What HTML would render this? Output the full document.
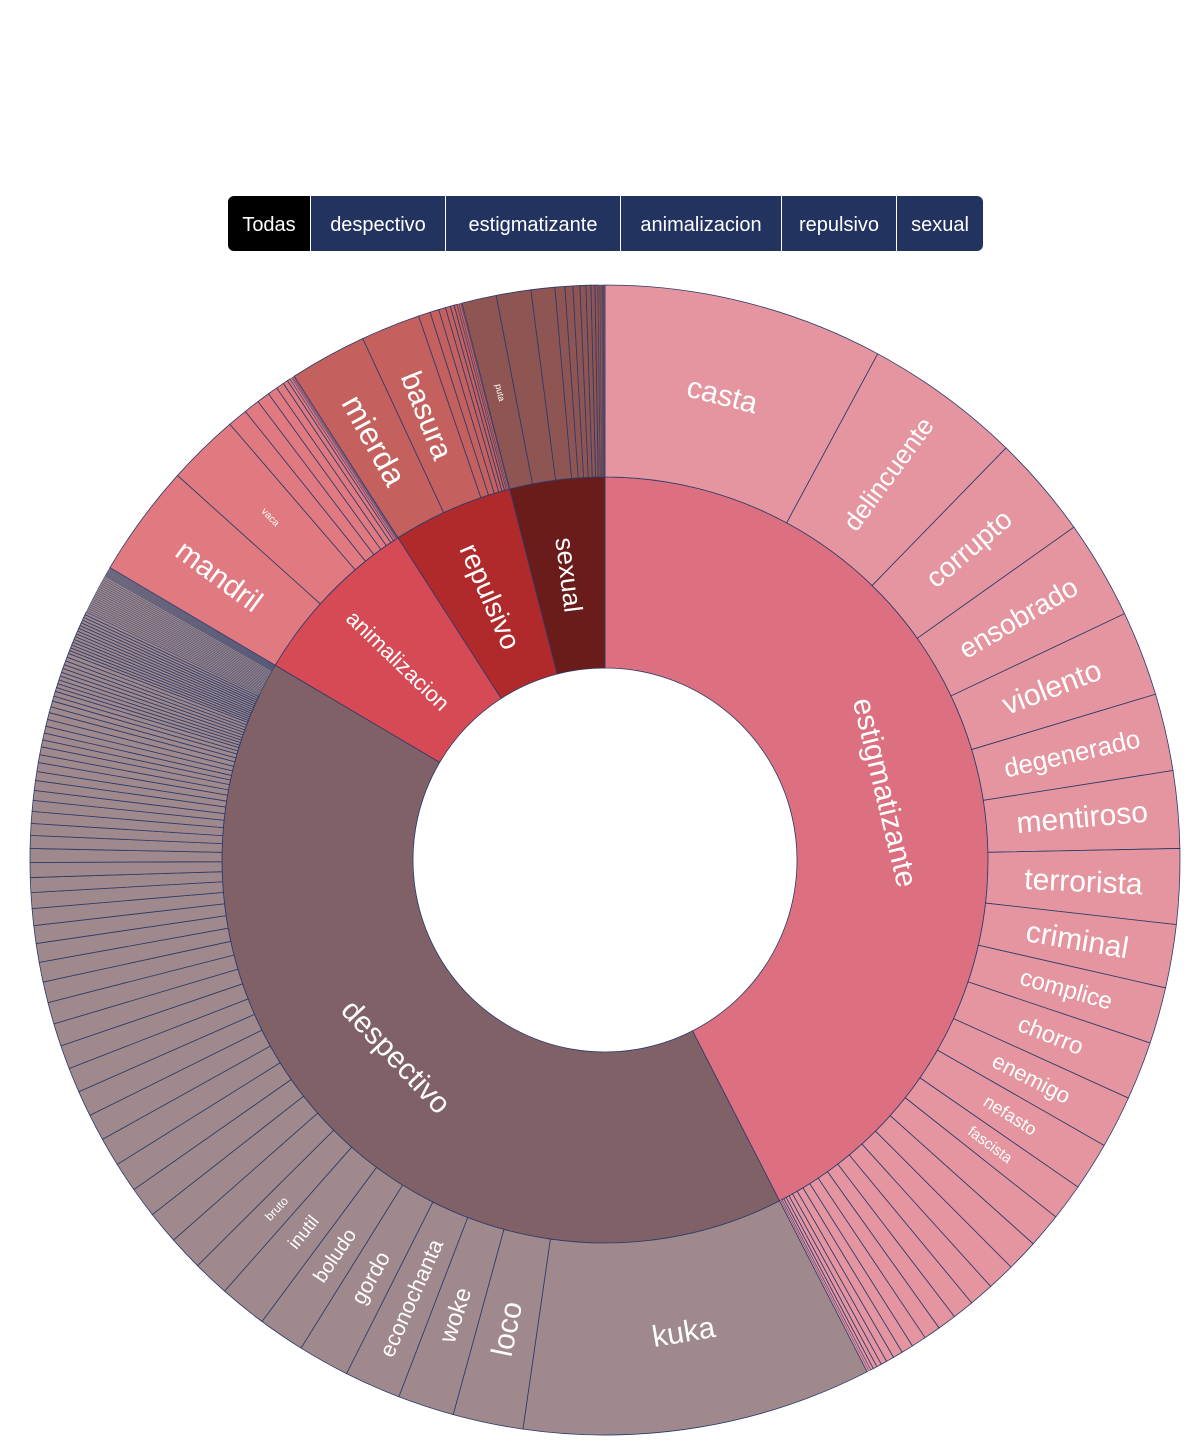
<!DOCTYPE html>
<html><head><meta charset="utf-8"><style>
body{margin:0;background:#fff;width:1200px;height:1450px;overflow:hidden;font-family:"Liberation Sans",sans-serif}
#btns{position:absolute;left:228px;top:196px;height:55px;display:flex;border-radius:6px;overflow:hidden}
#btns div{height:55px;line-height:59px;color:#fff;font-size:20px;text-align:center;background:#22335f;border-left:1px solid #fff;box-sizing:border-box}
#btns div:first-child{background:#000;border-left:none}
svg{position:absolute;left:0;top:0}
</style></head><body>
<div id="btns">
<div style="width:82px">Todas</div>
<div style="width:135px">despectivo</div>
<div style="width:175px">estigmatizante</div>
<div style="width:161px">animalizacion</div>
<div style="width:115px">repulsivo</div>
<div style="width:87px">sexual</div>
</div>
<svg id="chart" width="1200" height="1450"></svg>
<script>
const categories=["estigmatizante","despectivo","animalizacion","repulsivo","sexual"];
const catColors=["#dc7080","#806168","#d64a55","#b02a2c","#6a1c1a"];
const leafColors=["#e495a0","#9f898c","#e07a80","#c4605e","#8f5552"];
const estigLabels=["casta","delincuente","corrupto","ensobrado","violento","degenerado","mentiroso","terrorista","criminal","complice","chorro","enemigo","nefasto","fascista"];
const estigValues=[28.3,15.9,10.4,10.0,8.6,7.8,7.8,7.6,6.4,5.7,5.9,5.3,4.9,3.7,3.5,3.2,2.8,2.5,2.2,1.9,1.7,1.5,1.2,1.0,0.8,0.6,0.5,0.4,0.3,0.2,0.2];
const despLabels=["kuka","loco","woke","econochanta","gordo","boludo","inutil","bruto"];
const despValues=[35.3,7.1,5.7,5.7,5.2,4.7,4.8,3.7,3.5,3.3,3.1,3.0,2.9,2.7,2.6,2.5,2.4,2.3,2.2,2.1,2.0,1.9,1.8,1.7,1.6,1.5,1.5,1.4,1.3,1.2,1.2,1.1,1.0,1.0,0.9,0.9,0.8,0.8,0.7,0.7,0.7,0.7,0.7,0.6,0.6,0.5,0.5,0.4,0.4,0.4,0.4,0.4,0.4,0.4,0.4,0.4,0.4,0.3,0.3,0.3,0.3,0.3,0.3,0.3,0.3,0.3,0.3,0.3,0.3,0.3,0.3,0.3,0.2,0.2,0.2,0.2,0.2,0.2,0.2,0.2,0.2,0.2,0.2,0.2,0.2,0.2,0.2,0.2,0.2,0.2,0.2,0.2,0.1,0.1,0.1,0.1,0.1,0.1,0.1,0.1,0.1,0.1];
const animLabels=["mandril","vaca"];
const animValues=[11.4,7.3,2.0,1.6,1.3,1.0,0.8,0.5,0.3,0.2,0.1,0.1,0.1];
const repLabels=["mierda","basura"];
const repValues=[7.8,6.0,1.2,0.9,0.7,0.5,0.4,0.3,0.2,0.2,0.1];
const sexLabels=["puta"];
const sexValues=[3.5,3.5,2.4,1.0,0.8,0.7,0.6,0.5,0.4,0.3,0.2,0.2,0.1,0.1,0.1];
const children=[estigValues,despValues,animValues,repValues,sexValues];
const childLabels=[estigLabels,despLabels,animLabels,repLabels,sexLabels];
const catFont=[30,30,22,28,26];
const catMode=["t","t","r","r","r"];
const leafFont={casta:30,delincuente:26,corrupto:28,ensobrado:28,violento:30,degenerado:26,mentiroso:30,terrorista:30,criminal:30,complice:24,chorro:24,enemigo:22,nefasto:18,fascista:15,kuka:30,loco:30,woke:24,econochanta:22,gordo:22,boludo:20,inutil:18,bruto:12,mandril:30,vaca:10,mierda:32,basura:30,puta:9};
const tangential={casta:1,kuka:1};

const CX=605,CY=860,R0=192,R1=383,R2=575;
const svg=document.getElementById('chart');
const NS="http://www.w3.org/2000/svg";
const total=children.reduce((s,a)=>s+a.reduce((x,y)=>x+y,0),0);
const ang=v=>v/total*2*Math.PI;
function pt(r,a){return [CX+r*Math.sin(a),CY-r*Math.cos(a)];}
function arc(r0,r1,a0,a1){
  const la=(a1-a0)>Math.PI?1:0;
  const [x0,y0]=pt(r1,a0),[x1,y1]=pt(r1,a1),[x2,y2]=pt(r0,a1),[x3,y3]=pt(r0,a0);
  return `M${x0},${y0}A${r1},${r1} 0 ${la} 1 ${x1},${y1}L${x2},${y2}A${r0},${r0} 0 ${la} 0 ${x3},${y3}Z`;
}
function label(txt,r,a,size,mode){
  const [x,y]=pt(r,a);const d=a*180/Math.PI;
  let rot;
  if(mode==="t"){rot=(d>90&&d<270)?d+180:d;}
  else{rot=d<180?d-90:d+90;}
  const t=document.createElementNS(NS,'text');
  
  
  t.setAttribute('x',x);t.setAttribute('y',y);
  t.setAttribute('transform',`rotate(${rot} ${x} ${y})`);
  t.setAttribute('text-anchor','middle');t.setAttribute('dominant-baseline','central');
  t.setAttribute('fill','#fff');t.setAttribute('font-size',size);
  t.setAttribute('font-family','"Liberation Sans",sans-serif');
  t.textContent=txt;svg.appendChild(t);
}
let a=0;const labs=[];
categories.forEach((c,i)=>{
  const vals=children[i];const sum=vals.reduce((x,y)=>x+y,0);
  const a0=a,a1=a+ang(sum);
  const p=document.createElementNS(NS,'path');
  
  
  p.setAttribute('d',arc(R0,R1,a0,a1));p.setAttribute('fill',catColors[i]);
  p.setAttribute('stroke','#2a3a6a');p.setAttribute('stroke-width','0.8');
  svg.appendChild(p);
  labs.push([c,(R0+R1)/2,(a0+a1)/2,catFont[i],catMode[i]]);
  let b=a0;
  vals.forEach((v,j)=>{
    const b1=b+ang(v);
    const q=document.createElementNS(NS,'path');
    
    
    q.setAttribute('d',arc(R1,R2,b,b1));q.setAttribute('fill',leafColors[i]);
    q.setAttribute('stroke','#2a3a6a');q.setAttribute('stroke-width',v<0.25?'0.4':'0.8');
    svg.appendChild(q);
    const lb=childLabels[i][j];
    if(lb) labs.push([lb,(R1+R2)/2,(b+b1)/2,leafFont[lb]||14,tangential[lb]?"t":"r"]);
    b=b1;
  });
  a=a1;
});
labs.forEach(l=>label(...l));
</script>
</body></html>
